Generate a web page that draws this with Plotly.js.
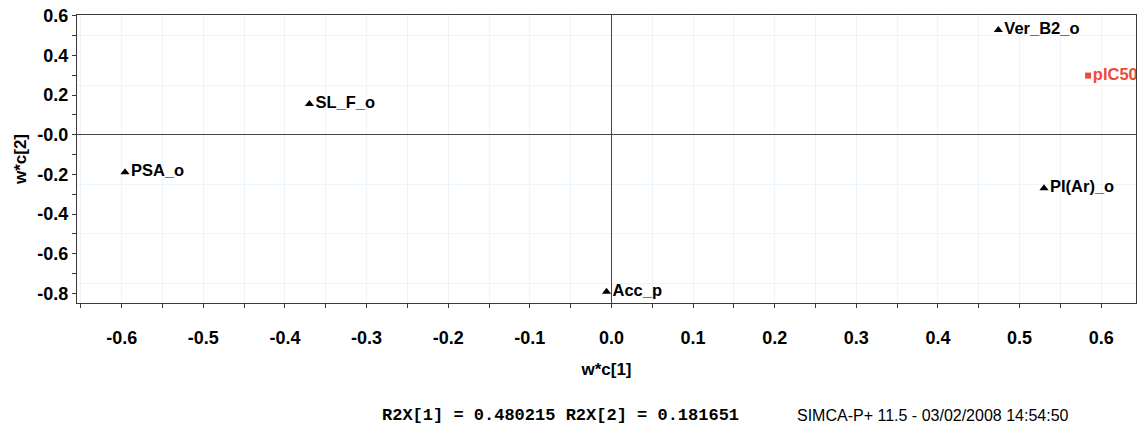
<!DOCTYPE html>
<html>
<head>
<meta charset="utf-8">
<script src="https://cdn.plot.ly/plotly-3.0.1.min.js"></script>
<style>html,body{margin:0;padding:0;background:#fff;}#chart{width:1138px;height:428px;}</style>
</head>
<body>
<div id="chart"></div>
<script>
// X-variables (loadings w*c)
const xLabels = ['Ver_B2_o', 'SL_F_o', 'PSA_o', 'PI(Ar)_o', 'Acc_p'];
const xWC1 = [0.474, -0.370, -0.596, 0.530, -0.006];
const xWC2 = [0.528, 0.155, -0.190, -0.270, -0.792];

// Y-variable (response)
const yLabels = ['pIC50'];
const yWC1 = [0.584];
const yWC2 = [0.298];

// Tick labels
const xTickVals = [-0.6, -0.5, -0.4, -0.3, -0.2, -0.1, 0, 0.1, 0.2, 0.3, 0.4, 0.5, 0.6];
const xTickText = ['-0.6', '-0.5', '-0.4', '-0.3', '-0.2', '-0.1', '0.0', '0.1', '0.2', '0.3', '0.4', '0.5', '0.6'];
const yTickVals = [0.6, 0.4, 0.2, 0, -0.2, -0.4, -0.6, -0.8];
const yTickText = ['0.6', '0.4', '0.2', '-0.0', '-0.2', '-0.4', '-0.6', '-0.8'];

const footerLeft = 'R2X[1] = 0.480215 R2X[2] = 0.181651';
const footerRight = 'SIMCA-P+ 11.5 - 03/02/2008 14:54:50';

const FONT = 'Liberation Sans, Arial, Helvetica, sans-serif';
const frameColor = '#3a3a3a';
const gridColor = '#eef4fb';

const traces = [
  {
    type: 'scatter', mode: 'markers+text',
    x: xWC1, y: xWC2, text: xLabels,
    textposition: 'middle right',
    textfont: {family: FONT, size: 16.5, color: '#000', weight: 'bold'},
    marker: {symbol: 'triangle-up', size: 8, color: '#000'},
    cliponaxis: true, hoverinfo: 'skip', showlegend: false
  },
  {
    type: 'scatter', mode: 'markers+text',
    x: yWC1, y: yWC2, text: yLabels,
    textposition: 'middle right',
    textfont: {family: FONT, size: 16.5, color: '#f0493b', weight: 'bold'},
    marker: {symbol: 'square', size: 6, color: '#f0493b'},
    cliponaxis: true, hoverinfo: 'skip', showlegend: false
  },
  {
    // invisible trace to activate the grid axis
    type: 'scatter', mode: 'markers', x: [0], y: [0], yaxis: 'y2',
    marker: {opacity: 0}, hoverinfo: 'skip', showlegend: false
  }
];

const layout = {
  width: 1138, height: 428,
  margin: {l: 77, r: 2, t: 15, b: 125},
  paper_bgcolor: '#fff', plot_bgcolor: '#fff',
  font: {family: FONT, color: '#000'},
  showlegend: false,
  xaxis: {
    range: [-0.6548, 0.6427],
    tickmode: 'array', tickvals: xTickVals, ticktext: xTickText,
    ticks: 'outside', ticklen: 4, tickcolor: frameColor, tickwidth: 1,
    ticklabelstandoff: 14,
    tickfont: {family: FONT, size: 18, color: '#000', weight: 'bold'},
    showgrid: true, gridcolor: gridColor, gridwidth: 1,
    minor: {dtick: 0.05, tick0: 0, ticks: 'outside', ticklen: 4, tickcolor: frameColor, showgrid: true, gridcolor: gridColor},
    zeroline: true, zerolinecolor: '#444', zerolinewidth: 1,
    showline: true, linecolor: frameColor, linewidth: 1, mirror: true,
    title: {text: 'w*c[1]', font: {family: FONT, size: 17, color: '#000', weight: 'bold'}, standoff: 16},
    automargin: false
  },
  yaxis: {
    range: [-0.8487, 0.6035],
    tickmode: 'array', tickvals: yTickVals, ticktext: yTickText,
    ticks: 'outside', ticklen: 4, tickcolor: frameColor, tickwidth: 1,
    tickfont: {family: FONT, size: 18, color: '#000', weight: 'bold'},
    showgrid: false,
    minor: {dtick: 0.1, tick0: 0, ticks: 'outside', ticklen: 4, tickcolor: frameColor, showgrid: false},
    zeroline: true, zerolinecolor: '#444', zerolinewidth: 1,
    showline: true, linecolor: frameColor, linewidth: 1, mirror: true,
    title: {text: 'w*c[2]', font: {family: FONT, size: 17, color: '#000', weight: 'bold'}, standoff: 6},
    automargin: false
  },
  yaxis2: {
    overlaying: 'y', side: 'left',
    range: [-0.8487, 0.6035],
    tick0: 0, dtick: 0.25,
    showgrid: true, gridcolor: gridColor, gridwidth: 1,
    showticklabels: false, ticks: '', zeroline: false, showline: false
  },
  annotations: [
    {xref: 'paper', yref: 'paper', x: 0.2859, y: -0.392, xanchor: 'left', yanchor: 'middle',
     text: footerLeft, showarrow: false,
     font: {family: 'Liberation Mono, Courier New, monospace', size: 17, color: '#000', weight: 'bold'}},
    {xref: 'paper', yref: 'paper', x: 0.6780, y: -0.392, xanchor: 'left', yanchor: 'middle',
     text: footerRight, showarrow: false,
     font: {family: FONT, size: 16, color: '#000'}}
  ]
};

Plotly.newPlot('chart', traces, layout, {staticPlot: true, displayModeBar: false});
</script>
</body>
</html>
